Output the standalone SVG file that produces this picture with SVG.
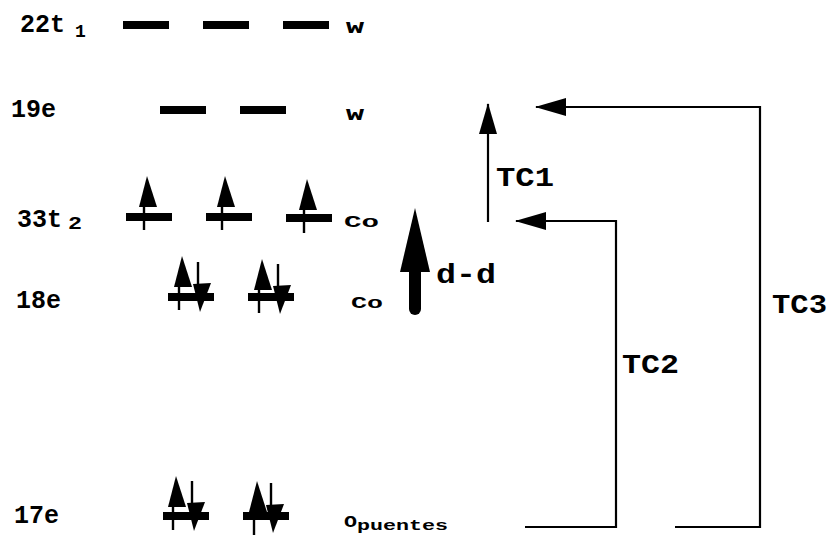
<svg xmlns="http://www.w3.org/2000/svg" width="828" height="535" viewBox="0 0 828 535">
<style>
text{font-family:"Liberation Mono","Courier New",monospace;font-weight:bold;fill:#000}
.lv{font-size:25px}
.sub{font-size:18px}
.atom{font-size:17px}
.tc{font-size:28px}
.bar{fill:#000}
.conn{fill:none;stroke:#000;stroke-width:2.2}
</style>
<defs>
<marker id="ah" markerUnits="userSpaceOnUse" markerWidth="32" markerHeight="20" refX="30" refY="9" orient="auto">
<polygon points="0,0 31,9 0,18" fill="#000"/>
</marker>
<g id="up">
<line x1="0" y1="-2" x2="0" y2="23" stroke="#000" stroke-width="2.4"/>
<polygon points="3,-31 -5,0 13,0" fill="#000"/>
</g>
<g id="dn">
<line x1="0" y1="-23" x2="0" y2="2" stroke="#000" stroke-width="2.4"/>
<polygon points="2,27 -5,-1 13,-2" fill="#000"/>
</g>
</defs>

<g id="level-22t1">
<text class="lv" x="20" y="32">22t</text>
<text class="sub" x="75" y="37">1</text>
<rect class="bar" x="123" y="21" width="46" height="8"/>
<rect class="bar" x="203" y="21" width="46" height="8"/>
<rect class="bar" x="283" y="21" width="46" height="8"/>
<text class="atom" x="346" y="33" textLength="18" lengthAdjust="spacingAndGlyphs">W</text>
</g>

<g id="level-19e">
<text class="lv" x="11" y="117">19e</text>
<rect class="bar" x="160" y="106" width="46" height="8"/>
<rect class="bar" x="240" y="106" width="46" height="8"/>
<text class="atom" x="346" y="120" textLength="18" lengthAdjust="spacingAndGlyphs">W</text>
</g>

<g id="level-33t2">
<text class="lv" x="17" y="227">33t</text>
<text class="sub" x="68" y="229" textLength="14" lengthAdjust="spacingAndGlyphs">2</text>
<rect class="bar" x="126" y="213" width="46" height="8"/>
<rect class="bar" x="206" y="213" width="46" height="8"/>
<rect class="bar" x="286" y="214" width="46" height="8"/>
<use href="#up" x="144" y="207"/>
<use href="#up" x="222" y="207"/>
<use href="#up" x="304" y="210"/>
<text class="atom" x="344" y="227" textLength="35" lengthAdjust="spacingAndGlyphs">Co</text>
</g>

<g id="level-18e">
<text class="lv" x="16" y="308">18e</text>
<rect class="bar" x="168" y="293" width="46" height="8"/>
<rect class="bar" x="248" y="293" width="46" height="8"/>
<use href="#up" x="179" y="287"/>
<use href="#dn" x="198" y="285"/>
<use href="#up" x="259" y="290"/>
<use href="#dn" x="278" y="287"/>
<text class="atom" x="351" y="308" textLength="32" lengthAdjust="spacingAndGlyphs">Co</text>
</g>

<g id="level-17e">
<text class="lv" x="14" y="523">17e</text>
<rect class="bar" x="163" y="512" width="46" height="8"/>
<rect class="bar" x="243" y="512" width="46" height="8"/>
<use href="#up" x="173" y="507"/>
<use href="#dn" x="192" y="504"/>
<use href="#up" x="254" y="512"/>
<use href="#dn" x="271" y="506"/>
<text class="atom" x="344" y="527" font-size="18" textLength="13" lengthAdjust="spacingAndGlyphs">O</text>
<text x="357" y="530" font-size="15" textLength="91" lengthAdjust="spacingAndGlyphs">puentes</text>
</g>

<g id="dd">
<line x1="415" y1="309" x2="415" y2="268" stroke="#000" stroke-width="12" stroke-linecap="round"/>
<polygon points="415,208 400,272 430,272" fill="#000"/>
<text class="tc" x="436" y="283" font-size="26" textLength="60" lengthAdjust="spacingAndGlyphs">d-d</text>
</g>

<g id="connectors">
<path class="conn" d="M488,222 V104" marker-end="url(#ah)"/>
<path class="conn" d="M525,527 H616 V221 H516" marker-end="url(#ah)"/>
<path class="conn" d="M675,527 H760 V107 H536" marker-end="url(#ah)"/>
</g>
<g id="tc-labels">
<text class="tc" x="496" y="186" textLength="58" lengthAdjust="spacingAndGlyphs">TC1</text>
<text class="tc" x="622" y="373" textLength="57" lengthAdjust="spacingAndGlyphs">TC2</text>
<text class="tc" x="772" y="313" textLength="55" lengthAdjust="spacingAndGlyphs">TC3</text>
</g>
</svg>
